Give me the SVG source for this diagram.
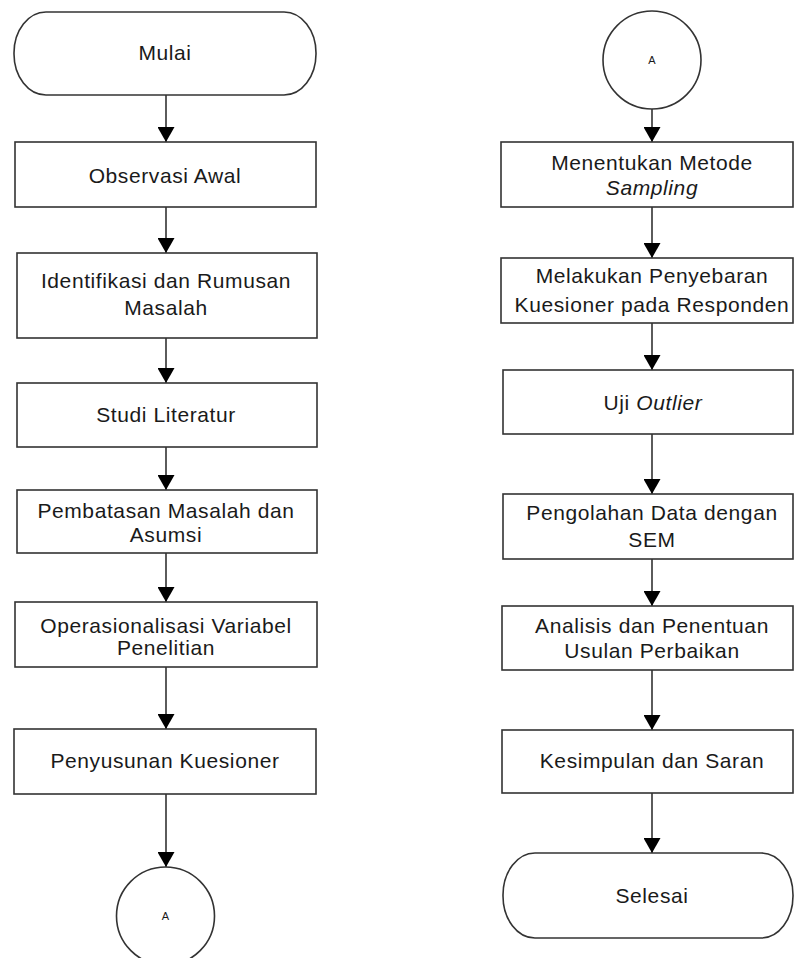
<svg xmlns="http://www.w3.org/2000/svg" width="794" height="958" viewBox="0 0 794 958">
<style>
.shape{fill:#fff;stroke:#333;stroke-width:1.6}
.t{font-family:"Liberation Sans",Arial,sans-serif;font-size:21px;fill:#1a1a1a;text-anchor:middle;letter-spacing:0.6px}
.s{font-family:"Liberation Sans",Arial,sans-serif;font-size:11px;fill:#1a1a1a;text-anchor:middle}
.c{stroke:#333;stroke-width:1.6;fill:none;marker-end:url(#arr)}
</style>
<defs>
<marker id="arr" viewBox="0 0 15 17" markerWidth="15" markerHeight="17" refX="15" refY="8.5" orient="auto" markerUnits="userSpaceOnUse">
<path d="M0,0 L15,8.5 L0,17 z" fill="#000"/>
</marker>
</defs>
<rect width="794" height="958" fill="#fff"/>
<g id="connectors">
<line class="c" x1="166" y1="95" x2="166" y2="142"/>
<line class="c" x1="166" y1="207" x2="166" y2="253"/>
<line class="c" x1="166" y1="338" x2="166" y2="383"/>
<line class="c" x1="166" y1="447" x2="166" y2="490"/>
<line class="c" x1="166" y1="553" x2="166" y2="602"/>
<line class="c" x1="166" y1="667" x2="166" y2="729"/>
<line class="c" x1="166" y1="794" x2="166" y2="867"/>
<line class="c" x1="652" y1="109" x2="652" y2="142"/>
<line class="c" x1="652" y1="207" x2="652" y2="258"/>
<line class="c" x1="652" y1="323" x2="652" y2="370"/>
<line class="c" x1="652" y1="434" x2="652" y2="494"/>
<line class="c" x1="652" y1="559" x2="652" y2="606"/>
<line class="c" x1="652" y1="670" x2="652" y2="730"/>
<line class="c" x1="652" y1="793" x2="652" y2="853"/>
</g>
<g id="mulai">
<rect class="shape" x="14" y="12" width="302" height="83" rx="32" ry="41"/>
<text class="t" x="165" y="60">Mulai</text>
</g>
<g id="observasi">
<rect class="shape" x="15" y="142" width="301" height="65"/>
<text class="t" x="165" y="183">Observasi Awal</text>
</g>
<g id="identifikasi">
<rect class="shape" x="17" y="253" width="300" height="85"/>
<text class="t" x="166" y="288">Identifikasi dan Rumusan</text>
<text class="t" x="166" y="315">Masalah</text>
</g>
<g id="studi">
<rect class="shape" x="17" y="383" width="300" height="64"/>
<text class="t" x="166" y="422">Studi Literatur</text>
</g>
<g id="pembatasan">
<rect class="shape" x="17" y="490" width="300" height="63"/>
<text class="t" x="166" y="518">Pembatasan Masalah dan</text>
<text class="t" x="166" y="542">Asumsi</text>
</g>
<g id="operasionalisasi">
<rect class="shape" x="15" y="602" width="302" height="65"/>
<text class="t" x="166" y="633">Operasionalisasi Variabel</text>
<text class="t" x="166" y="655">Penelitian</text>
</g>
<g id="penyusunan">
<rect class="shape" x="14" y="729" width="302" height="65"/>
<text class="t" x="165" y="768">Penyusunan Kuesioner</text>
</g>
<g id="connector-a-left">
<circle class="shape" cx="165.5" cy="916" r="49"/>
<text class="s" x="165.5" y="920">A</text>
</g>
<g id="connector-a-right">
<circle class="shape" cx="652" cy="60" r="49"/>
<text class="s" x="652" y="64">A</text>
</g>
<g id="menentukan">
<rect class="shape" x="501" y="142" width="292" height="65"/>
<text class="t" x="652" y="170">Menentukan Metode</text>
<text class="t" x="652" y="195" font-style="italic">Sampling</text>
</g>
<g id="melakukan">
<rect class="shape" x="501" y="258" width="292" height="65"/>
<text class="t" x="652" y="283">Melakukan Penyebaran</text>
<text class="t" x="652" y="312">Kuesioner pada Responden</text>
</g>
<g id="uji">
<rect class="shape" x="503" y="370" width="290" height="64"/>
<text class="t" x="653" y="410">Uji <tspan font-style="italic">Outlier</tspan></text>
</g>
<g id="pengolahan">
<rect class="shape" x="503" y="494" width="290" height="65"/>
<text class="t" x="652" y="520">Pengolahan Data dengan</text>
<text class="t" x="652" y="547">SEM</text>
</g>
<g id="analisis">
<rect class="shape" x="502" y="606" width="291" height="64"/>
<text class="t" x="652" y="633">Analisis dan Penentuan</text>
<text class="t" x="652" y="658">Usulan Perbaikan</text>
</g>
<g id="kesimpulan">
<rect class="shape" x="502" y="730" width="291" height="63"/>
<text class="t" x="652" y="768">Kesimpulan dan Saran</text>
</g>
<g id="selesai">
<rect class="shape" x="503" y="853" width="290" height="85" rx="32" ry="42"/>
<text class="t" x="652" y="903">Selesai</text>
</g>
</svg>
